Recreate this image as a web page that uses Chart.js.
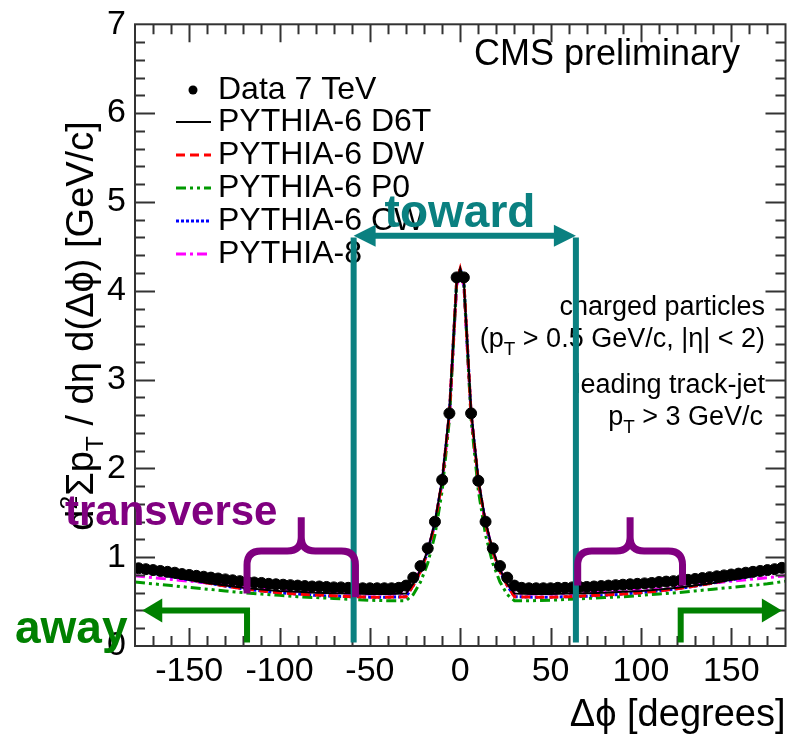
<!DOCTYPE html>
<html>
<head>
<meta charset="utf-8">
<script src="https://cdn.jsdelivr.net/npm/chart.js@4.4.1/dist/chart.umd.min.js"></script>
<style>
  html, body { margin: 0; padding: 0; background: #fff; }
  canvas { display: block; }
</style>
</head>
<body>
<canvas id="c" width="792" height="738"></canvas>
<script>
const FONT = '"Liberation Sans", Arial, sans-serif';

// data bins (4 degrees)
const dataX = [-178,-174,-170,-166,-162,-158,-154,-150,-146,-142,-138,-134,-130,-126,-122,-118,-114,-110,-106,-102,
  -98,-94,-90,-86,-82,-78,-74,-70,-66,-62,-58,-54,-50,-46,-42,-38,-34,-30,-26,-22,-18,-14,-10,-6,-2,
  2,6,10,14,18,22,26,30,34,38,42,46,50,54,58,62,66,70,74,78,82,86,90,94,98,
  102,106,110,114,118,122,126,130,134,138,142,146,150,154,158,162,166,170,174,178];
const dataY = [0.875,0.865,0.855,0.845,0.835,0.825,0.81,0.80,0.79,0.78,0.77,0.76,0.75,0.74,0.73,0.725,0.715,0.71,0.70,0.695,
  0.69,0.685,0.68,0.675,0.67,0.67,0.665,0.66,0.66,0.655,0.655,0.65,0.65,0.65,0.65,0.65,0.655,0.68,0.77,0.90,1.10,1.40,1.87,2.62,4.15,
  4.15,2.62,1.86,1.40,1.10,0.90,0.77,0.68,0.655,0.65,0.65,0.65,0.65,0.655,0.655,0.66,0.665,0.665,0.67,0.675,0.68,0.685,0.69,0.695,0.70,
  0.705,0.71,0.72,0.725,0.73,0.74,0.745,0.755,0.765,0.775,0.785,0.795,0.805,0.815,0.825,0.835,0.845,0.855,0.865,0.88];

// model curves
const modelX = [-180,-170,-160,-150,-140,-130,-120,-110,-100,-90,-80,-70,-60,-50,-40,-30,-26,-22,-18,-14,-10,-6,-2,
  0,2,6,10,14,18,22,26,30,40,50,60,70,80,90,100,110,120,130,140,150,160,170,180];
const d6tY = [0.86,0.82,0.78,0.745,0.71,0.68,0.655,0.635,0.62,0.61,0.60,0.595,0.59,0.585,0.585,0.59,0.70,0.86,1.08,1.40,1.88,2.65,4.10,
  4.25,4.10,2.65,1.88,1.40,1.08,0.86,0.70,0.59,0.585,0.585,0.59,0.595,0.60,0.61,0.62,0.635,0.655,0.68,0.71,0.745,0.78,0.82,0.86];
const dwY = [0.87,0.83,0.79,0.75,0.71,0.675,0.645,0.62,0.60,0.585,0.575,0.565,0.555,0.55,0.55,0.555,0.68,0.84,1.06,1.38,1.86,2.62,4.10,
  4.25,4.10,2.62,1.86,1.38,1.06,0.84,0.68,0.555,0.55,0.55,0.555,0.565,0.575,0.585,0.60,0.62,0.645,0.675,0.71,0.75,0.79,0.83,0.87];
const p0Y = [0.72,0.70,0.68,0.66,0.64,0.62,0.60,0.585,0.57,0.555,0.545,0.535,0.525,0.515,0.51,0.51,0.58,0.72,0.93,1.25,1.75,2.55,4.10,
  4.25,4.10,2.55,1.75,1.25,0.93,0.72,0.58,0.51,0.51,0.515,0.525,0.535,0.545,0.555,0.57,0.585,0.60,0.62,0.64,0.66,0.68,0.70,0.73];
const cwY = [0.85,0.82,0.78,0.745,0.71,0.675,0.645,0.62,0.60,0.585,0.57,0.56,0.555,0.55,0.55,0.555,0.68,0.84,1.06,1.38,1.86,2.62,4.10,
  4.25,4.10,2.62,1.86,1.38,1.06,0.84,0.68,0.555,0.55,0.55,0.555,0.56,0.57,0.585,0.60,0.62,0.645,0.675,0.71,0.745,0.78,0.82,0.85];
const py8Y = [0.79,0.77,0.75,0.73,0.71,0.69,0.665,0.645,0.63,0.615,0.605,0.60,0.59,0.585,0.585,0.59,0.70,0.86,1.07,1.38,1.84,2.58,4.05,
  4.22,4.05,2.58,1.84,1.38,1.07,0.86,0.70,0.59,0.585,0.585,0.59,0.60,0.605,0.615,0.63,0.645,0.665,0.69,0.71,0.73,0.75,0.77,0.79];

const xTicks = [-150,-100,-50,0,50,100,150];
const yTicks = [0,1,2,3,4,5,6,7];

const pts = (xs, ys) => xs.map((x, i) => ({ x, y: ys[i] }));

function richText(ctx, parts, x, y, size, align) {
  let w = 0;
  parts.forEach(p => { ctx.font = `${size * (p[1] || 1)}px ${FONT}`; w += ctx.measureText(p[0]).width; });
  let cx = align === 'right' ? x - w : align === 'center' ? x - w / 2 : x;
  ctx.textAlign = 'left';
  ctx.textBaseline = 'alphabetic';
  parts.forEach(p => {
    ctx.font = `${size * (p[1] || 1)}px ${FONT}`;
    ctx.fillText(p[0], cx, y + (p[2] || 0) * size);
    cx += ctx.measureText(p[0]).width;
  });
}

function head(ctx, tx, ty, dir, len, hw) {
  ctx.beginPath();
  ctx.moveTo(tx, ty);
  ctx.lineTo(tx - dir * len, ty - hw);
  ctx.lineTo(tx - dir * len, ty + hw);
  ctx.closePath();
  ctx.fill();
}

function brace(ctx, x1, x2, yEnd1, yEnd2, yBar, yTip) {
  const xc = (x1 + x2) / 2, r = 14;
  ctx.beginPath();
  ctx.moveTo(x1, yEnd1);
  ctx.lineTo(x1, yBar + r);
  ctx.quadraticCurveTo(x1, yBar, x1 + r, yBar);
  ctx.lineTo(xc - r, yBar);
  ctx.quadraticCurveTo(xc, yBar, xc, yBar - r);
  ctx.lineTo(xc, yTip);
  ctx.moveTo(xc, yBar - r);
  ctx.quadraticCurveTo(xc, yBar, xc + r, yBar);
  ctx.lineTo(x2 - r, yBar);
  ctx.quadraticCurveTo(x2, yBar, x2, yBar + r);
  ctx.lineTo(x2, yEnd2);
  ctx.stroke();
}

const decorations = {
  id: 'decorations',
  afterDraw(chart) {
    const ctx = chart.ctx;
    const a = chart.chartArea;
    const sx = chart.scales.x, sy = chart.scales.y;
    const px = v => sx.getPixelForValue(v), py = v => sy.getPixelForValue(v);
    ctx.save();

    // frame and inward ticks
    ctx.strokeStyle = '#333';
    ctx.lineWidth = 2;
    ctx.setLineDash([]);
    ctx.strokeRect(a.left, a.top, a.right - a.left, a.bottom - a.top);
    ctx.beginPath();
    for (let v = -170; v <= 170; v += 10) {
      const len = v % 50 === 0 ? 18 : 10;
      const x = Math.round(px(v)) + 0.5;
      ctx.moveTo(x, a.bottom); ctx.lineTo(x, a.bottom - len);
      ctx.moveTo(x, a.top); ctx.lineTo(x, a.top + len);
    }
    for (let i = 1; i < 35; i++) {
      const v = i / 5;
      const len = i % 5 === 0 ? 20 : 10;
      const y = Math.round(py(v)) + 0.5;
      ctx.moveTo(a.left, y); ctx.lineTo(a.left + len, y);
      ctx.moveTo(a.right, y); ctx.lineTo(a.right - len, y);
    }
    ctx.stroke();

    // y axis title
    ctx.save();
    ctx.fillStyle = '#000';
    ctx.translate(93, 326);
    ctx.rotate(-Math.PI / 2);
    richText(ctx, [['d'], ['2', 0.65, -0.42], ['Σp'], ['T', 0.65, 0.25], [' / dη d(Δϕ) [GeV/c]']], 0, 0, 38, 'center');
    ctx.restore();

    // legend
    const rows = [90, 122, 155, 188, 221, 254];
    chart.data.datasets.forEach((ds, i) => {
      const y = rows[i];
      if (ds.showLine === false) {
        ctx.fillStyle = '#000';
        ctx.beginPath(); ctx.arc(193, y, 4.5, 0, Math.PI * 2); ctx.fill();
      } else {
        ctx.strokeStyle = ds.borderColor;
        ctx.lineWidth = ds.borderWidth;
        ctx.setLineDash(ds.borderDash || []);
        ctx.beginPath(); ctx.moveTo(176, y); ctx.lineTo(211, y); ctx.stroke();
        ctx.setLineDash([]);
      }
      ctx.fillStyle = '#000';
      ctx.font = `32px ${FONT}`;
      ctx.textAlign = 'left';
      ctx.textBaseline = 'middle';
      ctx.fillText(ds.label, 218, y);
    });

    // text boxes
    ctx.fillStyle = '#000';
    ctx.font = `36px ${FONT}`;
    ctx.textAlign = 'right';
    ctx.textBaseline = 'alphabetic';
    ctx.fillText('CMS preliminary', 740, 65);
    richText(ctx, [['charged particles']], 765, 315, 27, 'right');
    richText(ctx, [['(p'], ['T', 0.7, 0.3], [' > 0.5 GeV/c, |η| < 2)']], 765, 347, 27, 'right');
    richText(ctx, [['leading track-jet']], 765, 393, 27, 'right');
    richText(ctx, [['p'], ['T', 0.7, 0.3], [' > 3 GeV/c']], 763, 425, 27, 'right');

    // toward region
    const teal = '#0a8080';
    ctx.strokeStyle = teal; ctx.fillStyle = teal;
    ctx.lineWidth = 6; ctx.lineCap = 'butt';
    ctx.beginPath();
    ctx.moveTo(px(-59), py(4.6)); ctx.lineTo(px(-59), py(0.04));
    ctx.moveTo(px(64), py(4.6)); ctx.lineTo(px(64), py(0.04));
    ctx.moveTo(px(-59) + 20, py(4.62)); ctx.lineTo(px(64) - 20, py(4.62));
    ctx.stroke();
    head(ctx, px(-59), py(4.62), -1, 22, 11);
    head(ctx, px(64), py(4.62), 1, 22, 11);
    ctx.font = `bold 46px ${FONT}`;
    ctx.textAlign = 'center';
    ctx.fillText('toward', 460, 227);

    // transverse braces
    const purple = '#800080';
    ctx.strokeStyle = purple; ctx.fillStyle = purple;
    ctx.lineWidth = 7;
    brace(ctx, px(-118), px(-58), py(0.59), py(0.55), py(1.07), py(1.45));
    brace(ctx, px(65), px(123), py(0.68), py(0.68), py(1.07), py(1.45));
    ctx.font = `bold 42px ${FONT}`;
    ctx.textAlign = 'left';
    ctx.fillText('transverse', 65, 525);

    // away arrows
    const green = '#008000';
    ctx.strokeStyle = green; ctx.fillStyle = green;
    ctx.lineWidth = 6; ctx.lineJoin = 'miter';
    ctx.beginPath();
    ctx.moveTo(px(-118), py(0.04)); ctx.lineTo(px(-118), py(0.4)); ctx.lineTo(px(-176) + 18, py(0.4));
    ctx.stroke();
    head(ctx, px(-176), py(0.4), -1, 20, 12);
    ctx.beginPath();
    ctx.moveTo(px(122), py(0.04)); ctx.lineTo(px(122), py(0.4)); ctx.lineTo(px(178) - 18, py(0.4));
    ctx.stroke();
    head(ctx, px(178), py(0.4), 1, 20, 12);
    ctx.font = `bold 46px ${FONT}`;
    ctx.fillText('away', 15, 643);

    ctx.restore();
  }
};

new Chart(document.getElementById('c'), {
  type: 'line',
  data: {
    datasets: [
      { label: 'Data 7 TeV', data: pts(dataX, dataY), showLine: false, pointRadius: 5.5,
        pointBackgroundColor: '#000', pointBorderColor: '#000', borderColor: '#000' },
      { label: 'PYTHIA-6 D6T', data: pts(modelX, d6tY), borderColor: '#000', borderWidth: 2, pointRadius: 0 },
      { label: 'PYTHIA-6 DW', data: pts(modelX, dwY), borderColor: '#ff0000', borderWidth: 3, borderDash: [9, 5], pointRadius: 0 },
      { label: 'PYTHIA-6 P0', data: pts(modelX, p0Y), borderColor: '#009900', borderWidth: 3, borderDash: [10, 4, 3, 4, 3, 4], pointRadius: 0 },
      { label: 'PYTHIA-6 CW', data: pts(modelX, cwY), borderColor: '#0000ff', borderWidth: 3, borderDash: [3, 2], pointRadius: 0 },
      { label: 'PYTHIA-8', data: pts(modelX, py8Y), borderColor: '#ff00ff', borderWidth: 3, borderDash: [10, 4, 3, 4], pointRadius: 0 }
    ]
  },
  options: {
    responsive: false,
    animation: false,
    devicePixelRatio: 1,
    layout: { padding: { left: 0, right: 1, top: 16, bottom: 0 } },
    plugins: { legend: { display: false }, tooltip: { enabled: false } },
    elements: { line: { tension: 0, fill: false } },
    scales: {
      x: {
        type: 'linear', min: -180, max: 180,
        grid: { display: false, drawTicks: false },
        border: { display: false },
        afterBuildTicks: s => { s.ticks = xTicks.map(v => ({ value: v })); },
        afterFit: s => { s.height = 92; },
        ticks: { font: { family: FONT, size: 34 }, color: '#000', padding: 5, maxRotation: 0, autoSkip: false },
        title: { display: true, text: 'Δϕ [degrees]', align: 'end', color: '#000',
          font: { family: FONT, size: 38 }, padding: { top: 0, bottom: 0 } }
      },
      y: {
        type: 'linear', min: 0, max: 7,
        grid: { display: false, drawTicks: false },
        border: { display: false },
        afterBuildTicks: s => { s.ticks = yTicks.map(v => ({ value: v })); },
        afterFit: s => { s.width = 135; },
        ticks: { font: { family: FONT, size: 34, lineHeight: 0.9 }, color: '#000', padding: 9 }
      }
    }
  },
  plugins: [decorations]
});
</script>
</body>
</html>
